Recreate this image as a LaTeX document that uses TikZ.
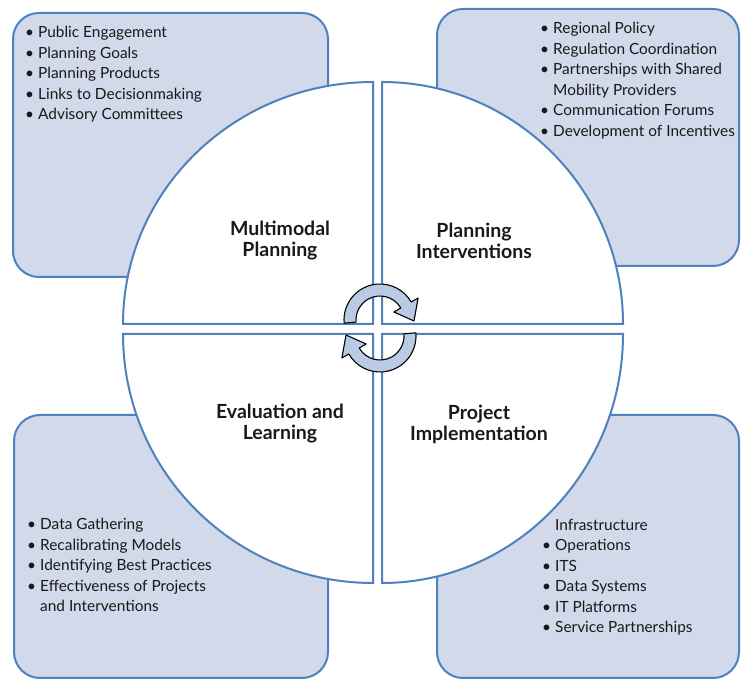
\documentclass[tikz,border=0pt]{standalone}
\usepackage{fontspec}
\setmainfont{Lato}
\usepackage{tikz}
\definecolor{ringblue}{RGB}{79,129,189}
\definecolor{boxfill}{RGB}{209,217,234}
\definecolor{arrowfill}{RGB}{184,202,228}
\definecolor{textdark}{RGB}{25,25,25}
\newcommand{\bul}{\makebox[13pt][l]{\textbullet}}

\begin{document}
\begin{tikzpicture}[x = 1pt, y = 1pt,
	cornerbox/.style = {draw = ringblue, fill = boxfill, line width = 2pt, rounded corners = 26pt},
	quarter/.style = {draw = ringblue, fill = white, line width = 2pt},
	cyclearrow/.style = {draw = black, fill = arrowfill, line width = 1.1pt, line join = round},
	title/.style = {align = center, font = \fontsize{19.5}{21}\selectfont\bfseries, text = textdark},
	itemlist/.style = {anchor = north west, align = left, inner sep = 0pt, font = \fontsize{15.4}{20.5}\selectfont, text = textdark}]
						\useasboundingbox (0, 0) rectangle (741, 682);
						\draw[cornerbox] (13, 405) rectangle (328, 669);
						\draw[cornerbox] (437, 416) rectangle (739, 673);
						\draw[cornerbox] (14, 4) rectangle (328, 267);
						\draw[cornerbox] (437, 4) rectangle (739, 267);
						\draw[quarter] (373, 358) -- (123, 358) arc[start angle = 180, end angle = 90, x radius = 250, y radius = 242] -- cycle;
						\draw[quarter] (382, 358) -- (382, 600) arc[start angle = 90, end angle = 0, x radius = 241, y radius = 242] -- cycle;
						\draw[quarter] (373, 348) -- (123, 348) arc[start angle = 180, end angle = 270, x radius = 250, y radius = 249] -- cycle;
						\draw[quarter] (382, 348) -- (623, 348) arc[start angle = 0, end angle = -90, x radius = 241, y radius = 249] -- cycle;
						\begin{scope}[shift = {(380, 362)}]
							\draw[cyclearrow] (185:36) arc[start angle = 185, end angle = 30, radius = 36] -- (30:44) -- (34, -1) -- (30:16) -- (30:24) arc[start angle = 30, end angle = 185, radius = 24] -- cycle;
						\end{scope}
						\begin{scope}[shift = {(380, 346)}, rotate = 180]
							\draw[cyclearrow] (185:36) arc[start angle = 185, end angle = 30, radius = 36] -- (30:44) -- (34, -1) -- (30:16) -- (30:24) arc[start angle = 30, end angle = 185, radius = 24] -- cycle;
						\end{scope}
						\node[title] (planning) at (280, 441) {Multimodal\\Planning};
						\node[title] (interventions) at (474, 441) {Planning\\Interventions};
						\node[title] (evaluation) at (280, 258) {Evaluation and\\Learning};
						\node[title] (implementation) at (479, 258) {Project\\Implementation};
						\node[itemlist] (planlist) at (25, 656) {\bul Public Engagement\\\bul Planning Goals\\\bul Planning Products\\\bul Links to Decisionmaking\\\bul Advisory Committees};
						\node[itemlist] (interlist) at (540, 660) {\bul Regional Policy\\\bul Regulation Coordination\\\bul Partnerships with Shared\\\hspace*{13pt}Mobility Providers\\\bul Communication Forums\\\bul Development of Incentives};
						\node[itemlist] (evallist) at (27, 164) {\bul Data Gathering\\\bul Recalibrating Models\\\bul Identifying Best Practices\\\bul Effectiveness of Projects\\\hspace*{13pt}and Interventions};
						\node[itemlist] (impllist) at (542, 163) {\hspace*{13pt}Infrastructure\\\bul Operations\\\bul ITS\\\bul Data Systems\\\bul IT Platforms\\\bul Service Partnerships};
					\end{tikzpicture}
\end{document}
